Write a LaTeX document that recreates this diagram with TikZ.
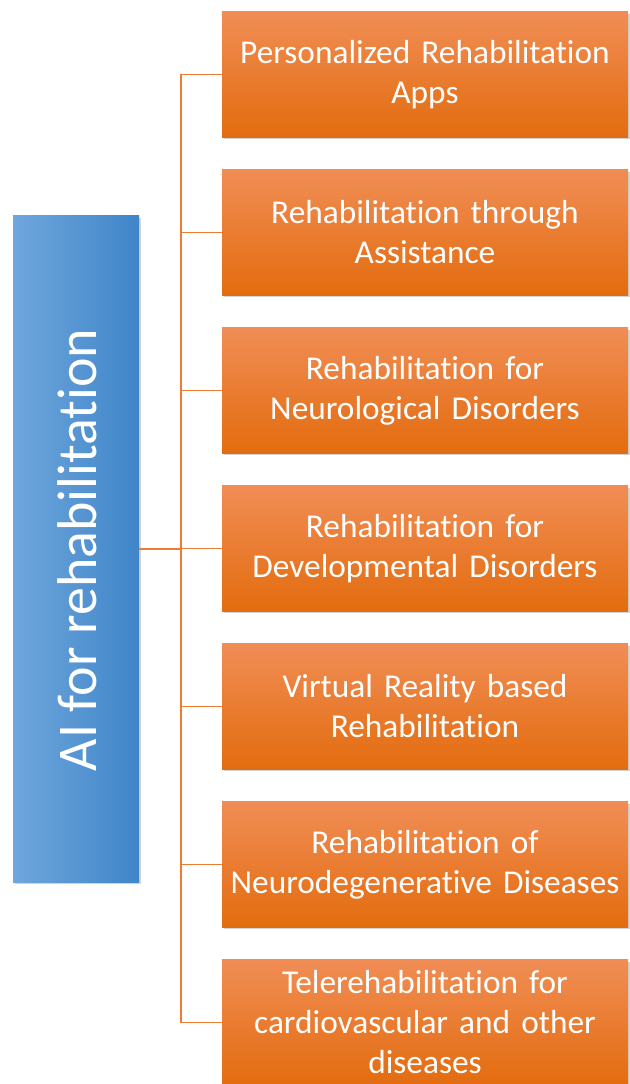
\documentclass[tikz,border=0pt]{standalone}
\usepackage{fontspec}
\setmainfont{Carlito}[Ligatures=NoCommon]
\usetikzlibrary{shadows}
\definecolor{orTop}{HTML}{F08D55}
\definecolor{orBot}{HTML}{E36C0E}
\definecolor{blLeft}{HTML}{6FA7DD}
\definecolor{blRight}{HTML}{3F85C8}
\definecolor{linkOr}{HTML}{ED7D31}
\tikzset{
  appbox/.style={shading=axis, top color=orTop, bottom color=orBot,
    minimum width=304.5pt, minimum height=94pt, inner sep=0pt,
    text width=300pt, align=center, text=white,
    font=\fontsize{25}{30}\selectfont,
    drop shadow={shadow xshift=1.2pt, shadow yshift=-1.5pt, opacity=.35}},
  rootbox/.style={shading=axis, left color=blLeft, right color=blRight,
    minimum width=94.5pt, minimum height=499.5pt, inner sep=0pt,
    drop shadow={shadow xshift=1.2pt, shadow yshift=-1.5pt, opacity=.35}},
  link/.style={draw=linkOr, line width=1.1pt}
}
\begin{document}
\begin{tikzpicture}[x=0.75pt,y=-0.75pt]
        \pgfmathsetmacro{\h}{158}
        \pgfmathsetmacro{\w}{425}

        \useasboundingbox (0,0) rectangle (629,1084);

        \node[rootbox] (root) at (76,549) {};
        \node[rotate=90, text=white, font=\fontsize{42}{42}\selectfont] (rootText) at (77,550) {AI for rehabilitation};
        \coordinate (trunk) at (181,549);

        \node[appbox] (b1) at (\w,74.5) {Personalized Rehabilitation\\Apps};
        \node[appbox] (b2) at (\w,74.5 + \h) {Rehabilitation through\\Assistance};
        \node[appbox] (b3) at (\w,74.5 + \h * 2) {Rehabilitation for\\Neurological Disorders};
        \node[appbox] (b4) at (\w,74.5 + \h * 3) {Rehabilitation for\\Developmental Disorders};
        \node[appbox] (b5) at (\w,74.5 + \h * 4) {Virtual Reality based\\Rehabilitation};
        \node[appbox] (b6) at (\w,74.5 + \h * 5) {Rehabilitation of\\Neurodegenerative Diseases};
        \node[appbox] (b7) at (\w,74.5 + \h * 6) {Telerehabilitation for\\cardiovascular and other\\diseases};

        \draw[link] (root.east) -- (trunk);
        \foreach \i in {1,...,7} {
          \draw[link] (b\i.west) -| (trunk);
        }
      \end{tikzpicture}
\end{document}
